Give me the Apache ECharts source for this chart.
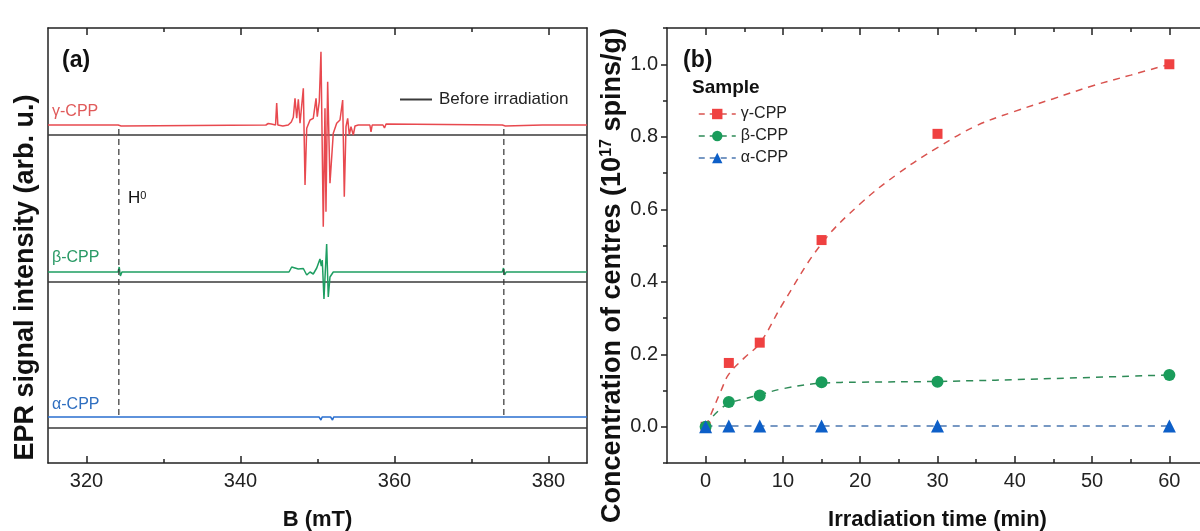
<!DOCTYPE html>
<html>
<head>
<meta charset="utf-8">
<script src="https://cdn.jsdelivr.net/npm/echarts@6/dist/echarts.min.js"></script>
<style>
html,body{margin:0;padding:0;background:#fff;}
#chart{width:1200px;height:531px;}
</style>
</head>
<body>
<div id="chart"></div>
<script>
// ---------- Panel (a): EPR spectra ----------
const bTickLabels = [320, 340, 360, 380];
const bMinorTicks = [330, 350, 370];
const sampleNames = ['γ-CPP', 'β-CPP', 'α-CPP'];
// vertical stacking offsets (arb. u.) of the irradiated and reference traces
const traceOffsets = [338, 191, 46];
const beforeOffsets = [328, 181, 35];
const h0Fields = [324.2, 374.2];
const h0Span = [48, 335];
// [B (mT), signal (arb. u.)]
const gammaSignal = [
  [315,0],[324.1,0],[324.3,2],[324.5,-1],[324.7,0],[343.3,0],[343.6,1.5],[344.0,1],[344.55,0],
  [344.7,22],[344.85,0],[345.5,-1],[346.2,0],[346.6,3],[346.86,7.7],[347.08,26.7],[347.3,6.7],
  [347.51,25.7],[347.73,1.7],[348.16,36.7],[348.38,-60],[348.6,-3.3],[349.03,5],[349.45,6.7],
  [349.81,26.7],[349.97,8.3],[350.23,23.3],[350.45,73.3],[350.75,-101.7],[350.97,16.7],
  [351.1,-86.7],[351.32,43.3],[351.62,-58.3],[352.05,-8.3],[352.49,1.7],[352.92,5],[353.27,25],
  [353.48,-71.7],[353.7,-1.7],[353.92,6.7],[354.13,-10],[354.35,-1.7],[354.65,-10],[354.87,-1],
  [355.3,0],[356.8,0],[356.95,-7],[357.1,0],[358.5,0],[358.7,-3],[358.9,1],[359.1,0],
  [374.0,0],[374.2,2],[374.4,-1],[374.6,0],[379.2,0],[379.4,1],[379.6,0],[385,0]
];
const betaSignal = [
  [315,0],[324.1,0],[324.25,5],[324.4,-4],[324.6,0],[346.3,0],[346.65,5],[346.86,3],[347.5,3],
  [348.16,3.5],[348.6,-3],[349.03,0],[349.45,-2],[349.9,4],[350.32,13],[350.5,6],[350.62,12],
  [350.84,-27],[351.01,0],[351.19,28],[351.4,-25],[351.62,-5],[352.05,0],[374.0,0],[374.15,4],
  [374.3,-3],[374.5,0],[385,0]
];
const alphaSignal = [
  [315,0],[324.2,0],[324.35,-2],[324.5,0],[350.2,0],[350.32,2],[350.45,-3],[350.6,0],[351.7,0],
  [351.84,2],[351.95,-3],[352.1,0],[374.1,0],[374.25,-2],[374.4,0],[385,0]
];
const beforeSignal = [[315,0],[385,0]];

// ---------- Panel (b): concentration vs time ----------
const timeTickLabels = [0, 10, 20, 30, 40, 50, 60];
const timeMinorTicks = [5, 15, 25, 35, 45, 55];
const concTickLabels = [0, 0.2, 0.4, 0.6, 0.8, 1.0];
const concMinorTicks = [-0.1, 0.1, 0.3, 0.5, 0.7, 0.9, 1.1];
const times = [0, 3, 7, 15, 30, 60];
const gammaConc = [0, 0.176, 0.232, 0.515, 0.808, 1.0];
const betaConc = [0, 0.068, 0.086, 0.123, 0.124, 0.143];
const alphaConc = [0, 0.002, 0.002, 0.002, 0.002, 0.002];
// dashed fitted curves
const gammaFitT = [0, 1, 2, 3, 5, 7, 10, 15, 20, 25, 30, 35, 40, 45, 50, 55, 60];
const gammaFitV = [0, 0.05, 0.1, 0.145, 0.19, 0.23, 0.34, 0.505, 0.615, 0.70, 0.77, 0.83, 0.87, 0.905, 0.94, 0.97, 1.0];
const betaFitT = [0, 1, 2, 3, 5, 7, 10, 15, 20, 30, 45, 60];
const betaFitV = [0, 0.03, 0.05, 0.065, 0.077, 0.088, 0.105, 0.12, 0.123, 0.125, 0.133, 0.143];
const alphaFitT = [0, 60];
const alphaFitV = [0.002, 0.002];

const traceColors = ['#e8494f', '#1e9e62', '#2a6fcf'];
const markerColors = ['#ef4141', '#1a9c5b', '#0d5fc8'];
const fitColors = ['#d9534f', '#2e8b57', '#4b77b0'];
const FONT = '"Liberation Sans", Arial, Helvetica, sans-serif';

const chart = echarts.init(document.getElementById('chart'), null, {renderer: 'canvas'});

const zip = (a, b) => a.map((v, i) => [v, b[i]]);
const shift = (arr, off) => arr.map(p => [p[0], p[1] + off]);

function frameX(grid, min, max, pos, major, minor, labels) {
  const base = {
    type: 'value', gridIndex: grid, min: min, max: max, position: pos,
    splitLine: {show: false},
  };
  return [
    Object.assign({}, base, {
      axisLine: {show: true, onZero: false, lineStyle: {color: '#222', width: 1.5}},
      axisTick: {show: true, inside: true, length: 7, customValues: major, lineStyle: {color: '#222', width: 1.5}},
      axisLabel: labels ? {show: true, customValues: major, margin: 8, color: '#222', fontSize: 20, fontFamily: FONT} : {show: false}
    }),
    Object.assign({}, base, {
      axisLine: {show: false, onZero: false},
      axisTick: {show: true, inside: true, length: 4, customValues: minor, lineStyle: {color: '#222', width: 1.5}},
      axisLabel: {show: false}
    })
  ];
}

const xAxes = [].concat(
  frameX(0, 315, 385, 'bottom', bTickLabels, bMinorTicks, true),
  frameX(0, 315, 385, 'top', bTickLabels, bMinorTicks, false),
  frameX(1, -5, 65, 'bottom', timeTickLabels, timeMinorTicks, true),
  frameX(1, -5, 65, 'top', timeTickLabels, timeMinorTicks, false)
);
xAxes[0].name = 'B (mT)';
xAxes[0].nameLocation = 'middle';
xAxes[0].nameGap = 46;
xAxes[0].nameTextStyle = {fontSize: 22, fontWeight: 'bold', color: '#111', fontFamily: FONT};
xAxes[4].name = 'Irradiation time (min)';
xAxes[4].nameLocation = 'middle';
xAxes[4].nameGap = 46;
xAxes[4].nameTextStyle = {fontSize: 22, fontWeight: 'bold', color: '#111', fontFamily: FONT};

const yAxes = [
  { // left panel, left
    type: 'value', gridIndex: 0, min: 0, max: 435, position: 'left',
    axisLine: {show: true, onZero: false, lineStyle: {color: '#222', width: 1.5}},
    axisTick: {show: false}, axisLabel: {show: false}, splitLine: {show: false},
    name: 'EPR signal intensity (arb. u.)', nameLocation: 'middle', nameGap: 9,
    nameTextStyle: {fontSize: 27, fontWeight: 'bold', color: '#111', fontFamily: FONT, padding: [0, 64, 0, 0]}
  },
  { // left panel, right
    type: 'value', gridIndex: 0, min: 0, max: 435, position: 'right',
    axisLine: {show: true, onZero: false, lineStyle: {color: '#222', width: 1.5}},
    axisTick: {show: false}, axisLabel: {show: false}, splitLine: {show: false}
  },
  { // right panel, left major
    type: 'value', gridIndex: 1, min: -0.1, max: 1.1, position: 'left',
    axisLine: {show: true, onZero: false, lineStyle: {color: '#222', width: 1.5}},
    axisTick: {show: true, inside: false, length: 6, customValues: concTickLabels, lineStyle: {color: '#222', width: 1.5}},
    axisLabel: {show: true, customValues: concTickLabels, margin: 9, color: '#222', fontSize: 20, fontFamily: FONT,
      formatter: v => v.toFixed(1)},
    splitLine: {show: false},
    name: 'Concentration of centres (10{sup|17} spins/g)', nameLocation: 'middle', nameGap: 23,
    nameTextStyle: {fontSize: 27, fontWeight: 'bold', color: '#111', fontFamily: FONT, padding: [0, 60, 0, 0],
      rich: {sup: {fontSize: 16, fontWeight: 'bold', color: '#111', fontFamily: FONT, verticalAlign: 'top', padding: [0, 0, 12, 0]}}}
  },
  { // right panel, left minor
    type: 'value', gridIndex: 1, min: -0.1, max: 1.1, position: 'left',
    axisLine: {show: false, onZero: false},
    axisTick: {show: true, inside: false, length: 4, customValues: concMinorTicks, lineStyle: {color: '#222', width: 1.5}},
    axisLabel: {show: false}, splitLine: {show: false}
  },
  { // right panel, right
    type: 'value', gridIndex: 1, min: -0.1, max: 1.1, position: 'right',
    axisLine: {show: true, onZero: false, lineStyle: {color: '#222', width: 1.5}},
    axisTick: {show: false}, axisLabel: {show: false}, splitLine: {show: false}
  }
];

const series = [];
// reference (before irradiation) traces
beforeOffsets.forEach(off => {
  series.push({
    name: 'Before irradiation', type: 'line', xAxisIndex: 0, yAxisIndex: 0,
    data: shift(beforeSignal, off), symbol: 'none', silent: true,
    lineStyle: {color: '#3a3a3a', width: 1.6}, itemStyle: {color: '#3a3a3a'}
  });
});
// irradiated spectra
[gammaSignal, betaSignal, alphaSignal].forEach((sig, i) => {
  series.push({
    name: sampleNames[i] + ' spectrum', type: 'line', xAxisIndex: 0, yAxisIndex: 0,
    data: shift(sig, traceOffsets[i]), symbol: 'none', sampling: null, silent: true,
    lineStyle: {color: traceColors[i], width: 1.5}, itemStyle: {color: traceColors[i]}, z: 3
  });
});
// H0 guide lines
h0Fields.forEach(h => {
  series.push({
    name: 'H0', type: 'line', xAxisIndex: 0, yAxisIndex: 0,
    data: h0Span.map(v => [h, v]), symbol: 'none', silent: true,
    lineStyle: {color: '#333', width: 1.2, type: [6, 4]}
  });
});
// fit curves
[[gammaFitT, gammaFitV], [betaFitT, betaFitV], [alphaFitT, alphaFitV]].forEach((f, i) => {
  series.push({
    name: sampleNames[i] + ' fit', type: 'line', xAxisIndex: 4, yAxisIndex: 2,
    data: zip(f[0], f[1]), symbol: 'none', smooth: 0.4, silent: true,
    lineStyle: {color: fitColors[i], width: 1.5, type: [7, 6]}
  });
});
// measured points
const symbols = ['rect', 'circle', 'triangle'];
const symSizes = [10, 12, 13];
[gammaConc, betaConc, alphaConc].forEach((v, i) => {
  series.push({
    name: sampleNames[i], type: 'line', xAxisIndex: 4, yAxisIndex: 2,
    data: zip(times, v), symbol: symbols[i], symbolSize: symSizes[i], showSymbol: true,
    lineStyle: {color: fitColors[i], opacity: 0},
    itemStyle: {color: markerColors[i], borderWidth: 0}, z: 5 + i
  });
});

const option = {
  animation: false,
  backgroundColor: '#ffffff',
  textStyle: {fontFamily: FONT},
  grid: [
    {left: 48, right: 613, top: 28, bottom: 68, outerBoundsMode: 'none'},
    {left: 667, right: -8, top: 28, bottom: 68, outerBoundsMode: 'none'}
  ],
  xAxis: xAxes,
  yAxis: yAxes,
  legend: [
    {
      data: [{name: 'Before irradiation', icon: 'rect'}], left: 395, top: 86, itemWidth: 32, itemHeight: 2,
      itemStyle: {color: '#3a3a3a'}, itemGap: 10,
      textStyle: {fontSize: 17, color: '#222', fontFamily: FONT, padding: [0, 0, 0, 2]}, selectedMode: false
    },
    {
      data: sampleNames, orient: 'vertical', left: 693, top: 101, itemWidth: 37, itemHeight: 13, itemGap: 6,
      lineStyle: {type: [6, 5], width: 1.5, opacity: 1},
      textStyle: {fontSize: 16, color: '#222', fontFamily: FONT}, selectedMode: false
    }
  ],
  graphic: [
    {type: 'text', left: 62, top: 49, style: {text: '(a)', font: 'bold 23px ' + FONT, fill: '#111'}},
    {type: 'text', left: 683, top: 49, style: {text: '(b)', font: 'bold 23px ' + FONT, fill: '#111'}},
    {type: 'text', left: 692, top: 78, style: {text: 'Sample', font: 'bold 19px ' + FONT, fill: '#111'}},
    {type: 'text', left: 52, top: 104, style: {text: sampleNames[0], font: '16px ' + FONT, fill: '#e05a5a'}},
    {type: 'text', left: 52, top: 250, style: {text: sampleNames[1], font: '16px ' + FONT, fill: '#2a9a66'}},
    {type: 'text', left: 52, top: 397, style: {text: sampleNames[2], font: '16px ' + FONT, fill: '#2f6fc0'}},
    {type: 'text', left: 128, top: 190, style: {
      text: '{h|H}{s|0}', rich: {
        h: {fontSize: 17, fontFamily: FONT, fill: '#111', color: '#111'},
        s: {fontSize: 11, fontFamily: FONT, fill: '#111', color: '#111', verticalAlign: 'top'}
      }}}
  ],
  series: series
};
chart.setOption(option);
</script>
</body>
</html>
